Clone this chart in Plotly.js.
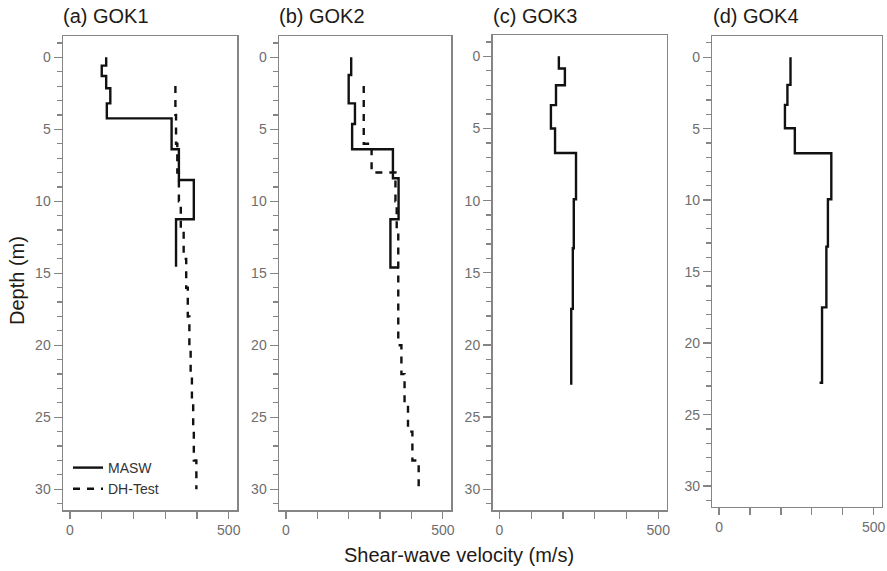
<!DOCTYPE html>
<html>
<head>
<meta charset="utf-8">
<script src="https://cdn.plot.ly/plotly-3.0.1.min.js"></script>
<style>html,body{margin:0;padding:0;background:#fff;}#chart{width:887px;height:571px;}</style>
</head>
<body>
<div id="chart"></div>
<script>
// ---- Data (depth in m, shear-wave velocity in m/s); layer boundaries with velocities ----
const panelTitles = ["(a) GOK1", "(b) GOK2", "(c) GOK3", "(d) GOK4"];
const seriesNames = ["MASW", "DH-Test"];

const gok1MaswDepth = [0, 0.58, 1.3, 2.15, 3.2, 4.24, 6.39, 8.52, 11.25, 14.54];
const gok1MaswVs    = [114, 100, 114, 127, 116, 320, 343, 390, 334, 334];
const gok1DhDepth   = [2, 4, 6, 8, 10, 12, 14, 16, 18, 20, 22, 24, 26, 28, 30];
const gok1DhVs      = [332, 334, 338, 343, 349, 358, 366, 371, 376, 380, 384, 388, 390, 398, 398];

const gok2MaswDepth = [0, 1.23, 3.2, 4.63, 6.39, 8.4, 11.25, 14.6];
const gok2MaswVs    = [208, 200, 220, 211, 341, 359, 333, 360];
const gok2DhDepth   = [2, 6, 8, 10, 12, 20, 22, 24, 26, 28, 30];
const gok2DhVs      = [248, 273, 349, 353, 358, 368, 378, 389, 403, 423, 423];

const gok3MaswDepth = [0, 0.84, 2.0, 3.38, 5.0, 6.7, 9.9, 13.3, 17.5, 22.76];
const gok3MaswVs    = [187, 206, 178, 162, 175, 241, 234, 231, 226, 226];

const gok4MaswDepth = [0, 1.94, 3.34, 4.97, 6.72, 9.94, 13.25, 17.5, 22.77];
const gok4MaswVs    = [231, 221, 213, 245, 363, 352, 347, 333, 325];

const xTickVals = [0, 100, 200, 300, 400, 500];
const xTickText = ["0", "", "", "", "", "500"];
const yTickVals = [0, 5, 10, 15, 20, 25, 30];

// ---- Styling ----
const FONT = "Liberation Sans, Arial, Helvetica, sans-serif";
const FRAME = "#858585";
const TICKFONT = {family: FONT, size: 14, color: "#6e6e6e"};
const W = 887, H = 571;

const frames = [
  {x0: 63,    x1: 237,   y0: 36, y1: 510},
  {x0: 279,   x1: 451,   y0: 36, y1: 510},
  {x0: 492.5, x1: 666.5, y0: 35, y1: 510},
  {x0: 712.3, x1: 881.7, y0: 36, y1: 506.7}
];

function xAxis(f, yid) {
  return {
    domain: [f.x0 / W, f.x1 / W], anchor: yid, range: [-22, 526],
    tickmode: "array", tickvals: xTickVals, ticktext: xTickText,
    ticks: "outside", ticklen: 7, tickwidth: 1.3, tickcolor: FRAME,
    showline: true, mirror: true, linecolor: FRAME, linewidth: 1.5,
    showgrid: false, zeroline: false, tickfont: TICKFONT, fixedrange: true
  };
}
function yAxis(f, xid) {
  return {
    domain: [1 - f.y1 / H, 1 - f.y0 / H], anchor: xid, range: [31.44, -1.48],
    tickmode: "array", tickvals: yTickVals,
    ticks: "outside", ticklen: 8, tickwidth: 1.3, tickcolor: FRAME,
    minor: {tickmode: "linear", tick0: 0, dtick: 1, ticks: "outside", ticklen: 5, tickwidth: 1.2, tickcolor: FRAME, showgrid: false},
    showline: true, mirror: true, linecolor: FRAME, linewidth: 1.5,
    showgrid: false, zeroline: false, tickfont: TICKFONT, fixedrange: true
  };
}

const solid = {color: "#111", width: 2.4, shape: "vh"};
const dashed = {color: "#111", width: 2.4, shape: "vh", dash: "7px,7px"};

function tr(vs, depth, idx, name, line, showlegend) {
  const sfx = idx === 1 ? "" : String(idx);
  return {type: "scatter", mode: "lines", x: vs, y: depth, xaxis: "x" + sfx, yaxis: "y" + sfx,
          name: name, line: line, showlegend: showlegend, hoverinfo: "x+y"};
}

const data = [
  tr(gok1MaswVs, gok1MaswDepth, 1, seriesNames[0], solid, true),
  tr(gok1DhVs, gok1DhDepth, 1, seriesNames[1], dashed, true),
  tr(gok2MaswVs, gok2MaswDepth, 2, seriesNames[0], solid, false),
  tr(gok2DhVs, gok2DhDepth, 2, seriesNames[1], dashed, false),
  tr(gok3MaswVs, gok3MaswDepth, 3, seriesNames[0], solid, false),
  tr(gok4MaswVs, gok4MaswDepth, 4, seriesNames[0], solid, false)
];

const annotations = panelTitles.map((t, i) => ({
  text: t, xref: "paper", yref: "paper", x: frames[i].x0 / W - 0.002, y: 1 - 16 / H,
  xanchor: "left", yanchor: "middle", showarrow: false,
  font: {family: FONT, size: 20, color: "#1e1a16"}
}));
annotations.push({
  text: "Depth (m)", xref: "paper", yref: "paper", x: 17 / W, y: 1 - 281 / H,
  xanchor: "center", yanchor: "middle", textangle: -90, showarrow: false,
  font: {family: FONT, size: 20, color: "#1e1a16"}
});
annotations.push({
  text: "Shear-wave velocity (m/s)", xref: "paper", yref: "paper", x: 459 / W, y: 1 - 555 / H,
  xanchor: "center", yanchor: "middle", showarrow: false,
  font: {family: FONT, size: 20, color: "#1e1a16"}
});

const layout = {
  width: W, height: H, margin: {l: 0, r: 0, t: 0, b: 0},
  paper_bgcolor: "#fff", plot_bgcolor: "#fff",
  font: {family: FONT},
  showlegend: true,
  legend: {x: 68 / W, y: 1 - 505 / H, xanchor: "left", yanchor: "bottom",
           bgcolor: "rgba(0,0,0,0)", font: {family: FONT, size: 14, color: "#333"},
           itemwidth: 30, tracegroupgap: 0},
  annotations: annotations,
  xaxis: xAxis(frames[0], "y"), yaxis: yAxis(frames[0], "x"),
  xaxis2: xAxis(frames[1], "y2"), yaxis2: yAxis(frames[1], "x2"),
  xaxis3: xAxis(frames[2], "y3"), yaxis3: yAxis(frames[2], "x3"),
  xaxis4: xAxis(frames[3], "y4"), yaxis4: yAxis(frames[3], "x4")
};

Plotly.newPlot("chart", data, layout, {displayModeBar: false, staticPlot: true});
</script>
</body>
</html>
